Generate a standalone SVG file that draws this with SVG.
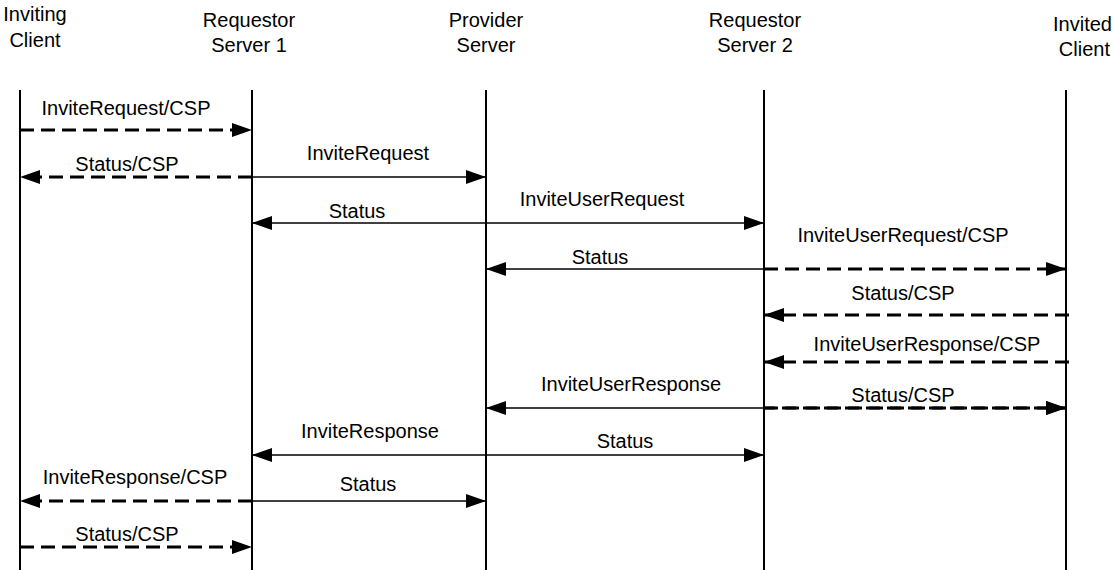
<svg xmlns="http://www.w3.org/2000/svg" width="1114" height="570" viewBox="0 0 1114 570">
<defs>
<style>
text{font-family:"Liberation Sans",Arial,sans-serif;font-size:20px;fill:#000;text-anchor:middle}
.life{stroke:#000;stroke-width:2;fill:none}
.sol{stroke:#000;stroke-width:1.5;fill:none;marker-end:url(#ah)}
.dsh{stroke:#000;stroke-width:3;fill:none;stroke-dasharray:14 7;marker-end:url(#ah)}
</style>
<marker id="ah" markerUnits="userSpaceOnUse" markerWidth="21" markerHeight="14" refX="20" refY="7" orient="auto">
<path d="M0,0 L20,7 L0,14 z" fill="#000"/>
</marker>
</defs>
<rect width="1114" height="570" fill="#fff"/>
<g id="inviting-client">
<text x="35" y="21">Inviting</text><text x="35" y="47">Client</text>
<line class="life" x1="20" y1="90" x2="20" y2="570"/>
</g>
<g id="requestor-server-1">
<text x="249" y="27">Requestor</text><text x="249" y="52">Server 1</text>
<line class="life" x1="252" y1="90" x2="252" y2="570"/>
</g>
<g id="provider-server">
<text x="486" y="27">Provider</text><text x="486" y="52">Server</text>
<line class="life" x1="486" y1="90" x2="486" y2="570"/>
</g>
<g id="requestor-server-2">
<text x="755" y="27">Requestor</text><text x="755" y="52">Server 2</text>
<line class="life" x1="764" y1="90" x2="764" y2="570"/>
</g>
<g id="invited-client">
<text x="1112" y="31" style="text-anchor:end">Invited</text><text x="1110" y="56" style="text-anchor:end">Client</text>
<line class="life" x1="1066" y1="90" x2="1066" y2="570"/>
</g>
<g id="connectors">
<line class="dsh" x1="20" y1="130" x2="252" y2="130"/>
<line class="dsh" x1="252" y1="177" x2="20" y2="177"/>
<line class="sol" x1="252" y1="177" x2="486" y2="177"/>
<line class="sol" x1="486" y1="223" x2="252" y2="223"/>
<line class="sol" x1="486" y1="223" x2="764" y2="223"/>
<line class="sol" x1="764" y1="269" x2="486" y2="269"/>
<line class="dsh" x1="764" y1="269" x2="1066" y2="269"/>
<line class="dsh" x1="1069" y1="315" x2="764" y2="315"/>
<line class="dsh" x1="1069" y1="362" x2="764" y2="362"/>
<line class="sol" x1="764" y1="408" x2="486" y2="408"/>
<line class="dsh" x1="764" y1="408" x2="1066" y2="408"/>
<line class="dsh" x1="764" y1="408" x2="1066" y2="408" style="stroke-dashoffset:3"/>
<line class="sol" x1="486" y1="455" x2="252" y2="455"/>
<line class="sol" x1="486" y1="455" x2="764" y2="455"/>
<line class="dsh" x1="252" y1="501" x2="20" y2="501"/>
<line class="sol" x1="252" y1="501" x2="486" y2="501"/>
<line class="dsh" x1="20" y1="547" x2="252" y2="547"/>
<text x="126" y="115">InviteRequest/CSP</text>
<text x="127" y="171">Status/CSP</text>
<text x="368" y="160">InviteRequest</text>
<text x="602" y="206">InviteUserRequest</text>
<text x="357" y="218">Status</text>
<text x="903" y="242">InviteUserRequest/CSP</text>
<text x="600" y="264">Status</text>
<text x="903" y="300">Status/CSP</text>
<text x="927" y="351">InviteUserResponse/CSP</text>
<text x="631" y="391">InviteUserResponse</text>
<text x="903" y="402">Status/CSP</text>
<text x="370" y="438">InviteResponse</text>
<text x="625" y="448">Status</text>
<text x="135" y="484">InviteResponse/CSP</text>
<text x="368" y="491">Status</text>
<text x="127" y="541">Status/CSP</text>
</g>
</svg>
